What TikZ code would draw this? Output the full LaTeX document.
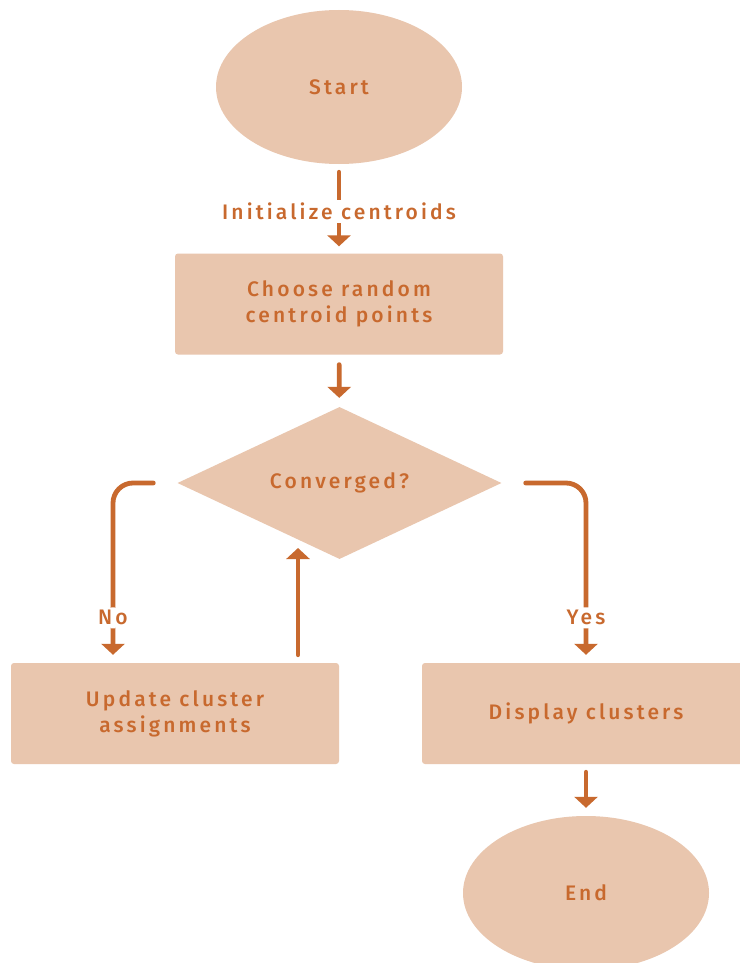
\documentclass[tikz,border=0pt]{standalone}
\usepackage{fontspec}
\setmainfont{Fira Sans}[UprightFont={* Medium}, LetterSpace=15]
\usetikzlibrary{arrows.meta,shapes.geometric,calc}
\definecolor{boxfill}{HTML}{E9C6AE}
\definecolor{ink}{HTML}{C8692E}
\tikzset{
  base/.style={fill=boxfill, draw=none, text=ink, font=\fontsize{21}{26}\selectfont, align=center},
  oval/.style={base, ellipse, minimum width=246pt, minimum height=154pt, inner sep=0pt},
  procbox/.style={base, rectangle, rounded corners=3pt, minimum width=328pt, minimum height=101pt, inner sep=0pt},
  decide/.style={base, diamond, aspect=2.13, minimum width=324pt, minimum height=152pt, inner sep=0pt},
  arr/.style={draw=ink, line width=4.8pt, line cap=round, -{Triangle[width=23pt,length=11pt]}},
  lbl/.style={text=ink, font=\fontsize{21}{22}\selectfont, fill=white, inner sep=3pt}
}
\begin{document}
\begin{tikzpicture}[x=1pt,y=-1pt]
\useasboundingbox[fill=white] (0,0) rectangle (739,963);
\node[oval] (start) at (339,87) {Start};
\node[procbox] (choose) at (339,304) {Choose random\\centroid points};
\node[decide] (d) at (339.5,483) {Converged?};
\node[procbox] (upd) at (175,713.5) {Update cluster\\assignments};
\node[procbox] (disp) at (586,713.5) {Display clusters};
\node[oval] (end) at (586,893) {End};
\coordinate (upin) at (298,548);

\draw[arr, shorten <=8pt, shorten >=7pt] (start) -- node[lbl, pos=0.53]{Initialize centroids} (choose);
\draw[arr, shorten <=10pt, shorten >=9pt] (choose) -- (d);
\draw[arr, rounded corners=20pt, shorten <=12pt, shorten >=8pt] ([xshift=-12pt]d.west) -| node[lbl, pos=0.875]{No} ([xshift=-62pt]upd.north);
\draw[arr, rounded corners=20pt, shorten <=12pt, shorten >=8pt] ([xshift=12pt]d.east) -| node[lbl, pos=0.875]{Yes} (disp.north);
\draw[arr] ([xshift=123pt,yshift=8pt]upd.north) -- (upin);
\draw[arr, shorten <=8pt, shorten >=8pt] (disp) -- (end);
\end{tikzpicture}
\end{document}
